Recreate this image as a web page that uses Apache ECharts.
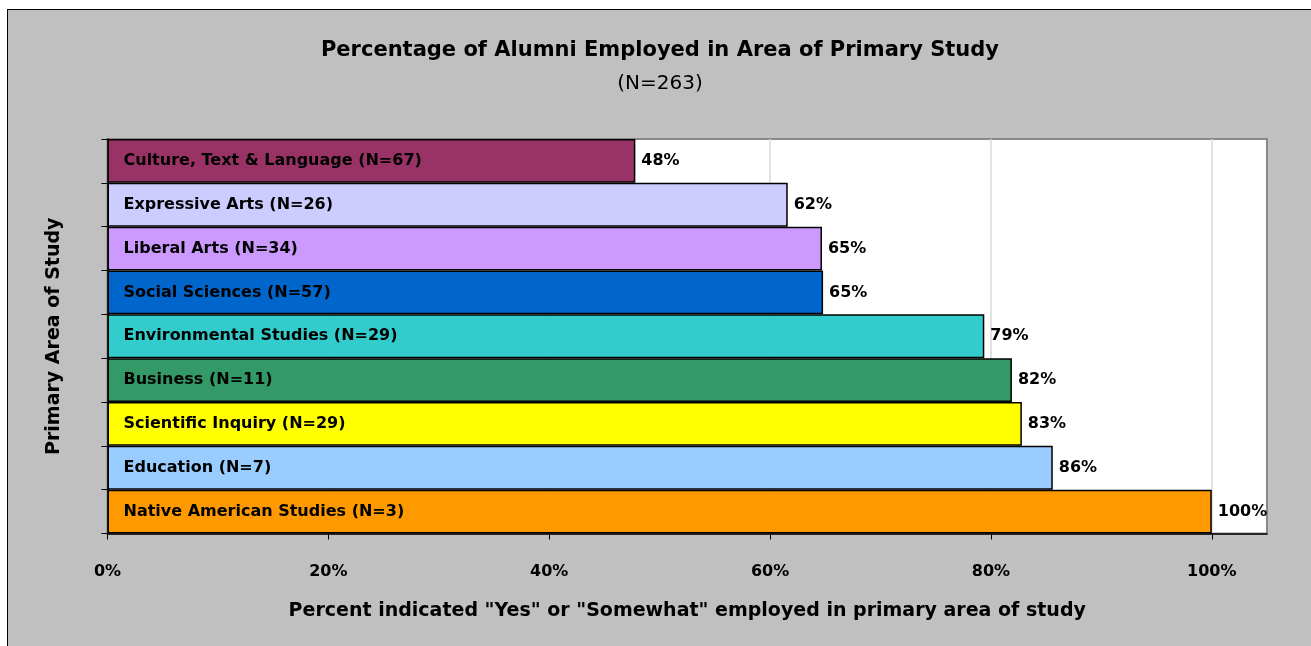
<!DOCTYPE html>
<html>
<head>
<meta charset="utf-8">
<script src="https://cdn.jsdelivr.net/npm/echarts@6/dist/echarts.min.js"></script>
<style>
  html, body { margin: 0; padding: 0; background: #fff; overflow: hidden; }
  #main { position: absolute; left: 7px; top: 9px; width: 1304px; height: 637px;
          border-left: 1px solid #000; border-top: 1px solid #000; background: #c0c0c0; }
</style>
</head>
<body>
<div id="main"></div>
<script>
// data
var categories = ['Culture, Text & Language (N=67)', 'Expressive Arts (N=26)', 'Liberal Arts (N=34)',
  'Social Sciences (N=57)', 'Environmental Studies (N=29)', 'Business (N=11)',
  'Scientific Inquiry (N=29)', 'Education (N=7)', 'Native American Studies (N=3)'];
var percents = [47.8, 61.6, 64.7, 64.8, 79.4, 81.9, 82.8, 85.6, 100];
var barColors = ['#993366', '#ccccff', '#cc99ff', '#0066cc', '#33cccc', '#339966', '#ffff00', '#99ccff', '#ff9900'];
var xTicks = [0, 20, 40, 60, 80, 100];

var FONT = 'DejaVu Sans';

var chart = echarts.init(document.getElementById('main'));

var option = {
  title: {
    text: 'Percentage of Alumni Employed in Area of Primary Study',
    subtext: '(N=263)',
    left: 'center',
    top: 25,
    itemGap: 13,
    textStyle: { fontFamily: FONT, fontSize: 21, fontWeight: 'bold', color: '#000' },
    subtextStyle: { fontFamily: FONT, fontSize: 20, color: '#000' }
  },
  grid: {
    left: 99.5, right: 45, top: 129, bottom: 113.5,
    show: true, backgroundColor: '#fff', borderColor: '#888', borderWidth: 2
  },
  xAxis: {
    type: 'value',
    min: 0, max: 105, interval: 20,
    name: 'Percent indicated "Yes" or "Somewhat" employed in primary area of study',
    nameLocation: 'middle',
    nameGap: 68,
    nameTextStyle: { fontFamily: FONT, fontSize: 19, fontWeight: 'bold', color: '#000' },
    axisLine: { show: true, lineStyle: { color: '#000', width: 1.5 } },
    axisTick: { show: true, length: 6, lineStyle: { color: '#000' }, customValues: xTicks },
    axisLabel: {
      customValues: xTicks,
      margin: 30,
      fontFamily: FONT, fontSize: 16, fontWeight: 'bold', color: '#000',
      formatter: function (v) { return v + '%'; }
    },
    splitLine: { show: true, lineStyle: { color: '#d9d9d9', width: 1.5 } }
  },
  yAxis: {
    type: 'category',
    data: categories,
    inverse: true,
    z: 10,
    name: 'Primary Area of Study',
    nameLocation: 'middle',
    nameGap: 44,
    nameTextStyle: { fontFamily: FONT, fontSize: 19, fontWeight: 'bold', color: '#000' },
    axisLine: { show: true, lineStyle: { color: '#000', width: 1.5 } },
    axisTick: { show: true, length: 6, lineStyle: { color: '#000' } },
    axisLabel: {
      inside: true,
      margin: 16,
      fontFamily: FONT, fontSize: 16, fontWeight: 'bold', color: '#000'
    }
  },
  series: [{
    type: 'bar',
    barCategoryGap: '0%',
    data: percents.map(function (v, i) {
      return { value: v, itemStyle: { color: barColors[i] } };
    }),
    itemStyle: { borderColor: '#000', borderWidth: 1.5 },
    label: {
      show: true,
      position: 'right',
      distance: 6,
      fontFamily: FONT, fontSize: 16, fontWeight: 'bold', color: '#000',
      formatter: function (p) { return Math.round(p.value) + '%'; }
    },
    animation: false
  }]
};

chart.setOption(option);
</script>
</body>
</html>
